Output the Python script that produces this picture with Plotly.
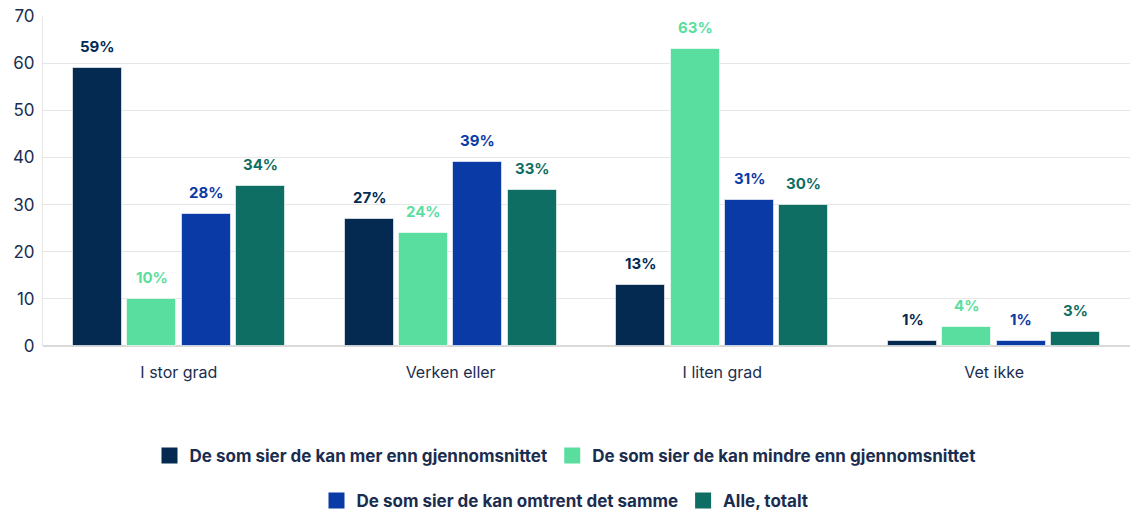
import plotly.graph_objects as go

categories = ["I stor grad", "Verken eller", "I liten grad", "Vet ikke"]
series_names = [
    "De som sier de kan mer enn gjennomsnittet",
    "De som sier de kan mindre enn gjennomsnittet",
    "De som sier de kan omtrent det samme",
    "Alle, totalt",
]
mer = [59, 27, 13, 1]
mindre = [10, 24, 63, 4]
samme = [28, 39, 31, 1]
alle = [34, 33, 30, 3]
series_values = [mer, mindre, samme, alle]
colors = ["#052a52", "#5ade9f", "#0a3aa6", "#0e6e64"]
y_ticks = [0, 10, 20, 30, 40, 50, 60, 70]

NAVY = "#1b2d4f"
FONT = "Inter, Liberation Sans, Arial, sans-serif"
slot = 0.2
bar_w = 0.18
n = len(series_values)

fig = go.Figure()
annotations = []
for j, (name, vals, col) in enumerate(zip(series_names, series_values, colors)):
    xs = [i + (j - (n - 1) / 2) * slot for i in range(len(categories))]
    lg = "legend" if j < 2 else "legend2"
    fig.add_trace(go.Bar(
        x=xs, y=vals, width=bar_w, name=name,
        marker=dict(color=col, line=dict(color="rgba(255,255,255,0.6)", width=1)),
        showlegend=False, hoverinfo="skip",
    ))
    # legend entry with a larger square swatch
    fig.add_trace(go.Scatter(
        x=[None], y=[None], mode="markers", name=name, legend=lg,
        marker=dict(symbol="square", size=17, color=col),
        hoverinfo="skip",
    ))
    for x, v in zip(xs, vals):
        annotations.append(dict(
            x=x, y=v, xref="x", yref="y", text=f"<b>{v}%</b>",
            showarrow=False, yanchor="bottom", yshift=10,
            font=dict(family=FONT, size=15, color=col),
        ))

legend_common = dict(
    orientation="h", x=0.5, xanchor="center", xref="container", yref="container",
    yanchor="middle",
    font=dict(family=FONT, size=17, color=NAVY, weight="bold"),
    itemsizing="trace", itemwidth=30, bgcolor="rgba(0,0,0,0)",
)

fig.update_layout(
    width=1130, height=510,
    margin=dict(l=43, r=0, t=16, b=164, autoexpand=False),
    plot_bgcolor="white", paper_bgcolor="white",
    font=dict(family=FONT, color=NAVY, size=16),
    showlegend=True,
    annotations=annotations,
    xaxis=dict(
        range=[-0.5, 3.5], tickmode="array",
        tickvals=list(range(len(categories))), ticktext=categories,
        showgrid=False, zeroline=False, showline=False,
        ticks="outside", ticklen=12, tickcolor="rgba(0,0,0,0)",
        tickfont=dict(size=16, color=NAVY),
    ),
    yaxis=dict(
        range=[0, 70], tickmode="array", tickvals=y_ticks,
        showgrid=True, gridcolor="#e6e6e6", gridwidth=1,
        zeroline=True, zerolinecolor="#d9d9d9", zerolinewidth=2,
        showline=True, linecolor="#e6e6e6", linewidth=1,
        ticks="outside", ticklen=4, tickcolor="rgba(0,0,0,0)",
        tickfont=dict(size=17, color=NAVY),
    ),
    legend=dict(legend_common, y=1 - 456 / 510),
    legend2=dict(legend_common, y=1 - 501 / 510),
    bargap=0,
)

fig.write_html(
    "out.html",
    config={"displayModeBar": False},
    post_script="document.body.style.margin='0';document.body.style.padding='0';",
)
